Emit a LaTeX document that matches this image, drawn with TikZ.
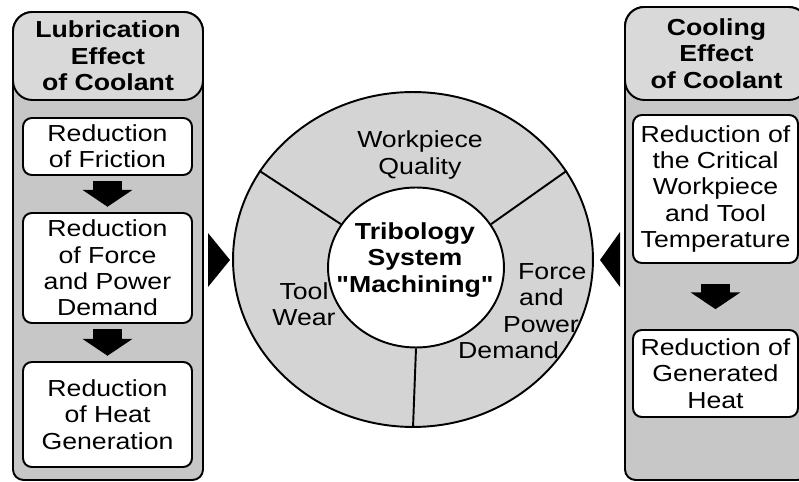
\documentclass[tikz,border=0pt]{standalone}
\usepackage{fontspec}
\setmainfont{Liberation Sans}[FakeStretch=1.15, Ligatures=TeXOff]
\usetikzlibrary{arrows.meta,shapes.geometric}

\newcommand\boxfont{\fontsize{13.2}{15}\selectfont}

\definecolor{panelgray}{gray}{0.78}
\definecolor{headgray}{gray}{0.85}
\definecolor{ringgray}{gray}{0.83}

\tikzset{
  panel/.style={draw, line width=1.1pt, fill=panelgray},
  head/.style={draw, line width=1.1pt, fill=headgray, rounded corners=11pt,
    align=center, font=\boxfont\bfseries, inner sep=0pt},
  effect/.style={draw, line width=1.1pt, fill=white, rounded corners=5pt,
    align=center, inner sep=1pt},
  flow/.style={line width=17pt, -{Triangle[length=9.6pt,width=28pt]},
    shorten <=3pt, shorten >=3pt},
  ring/.style={draw, ellipse, line width=1.1pt, inner sep=0pt},
}

\begin{document}
\begin{tikzpicture}[x=0.02cm, y=-0.02cm, every node/.style={font=\boxfont}]
  \useasboundingbox (0,0) rectangle (799,482);

  % Side panels
  \draw[panel] (13,250) [rounded corners=11pt] -- (13,12) -- (203,12) -- (203,250)
    [rounded corners=6pt] -- (203,480) -- (13,480) -- cycle;
  \draw[panel] (625,250) [rounded corners=11pt] -- (625,7) -- (808,7) -- (808,250)
    [rounded corners=6pt] -- (808,480) -- (625,480) -- cycle;

  % Lubrication chain
  \node[head, minimum width=3.8cm, minimum height=1.76cm] (lubhead) at (108,56)
    {Lubrication\\Effect\\of Coolant};
  \node[effect, minimum width=3.38cm, minimum height=1.14cm] (fric) at (107.5,146.5)
    {Reduction\\of Friction};
  \node[effect, minimum width=3.38cm, minimum height=2.2cm] (force) at (107.5,268)
    {Reduction\\of Force\\and Power\\Demand};
  \node[effect, minimum width=3.38cm, minimum height=2.1cm] (heat) at (107.5,414.5)
    {Reduction\\of Heat\\Generation};
  \draw[flow] (fric) -- (force);
  \draw[flow] (force) -- (heat);

  % Cooling chain
  \node[head, minimum width=3.66cm, minimum height=1.86cm] (coolhead) at (716.5,53.5)
    {Cooling\\Effect\\of Coolant};
  \node[effect, minimum width=3.3cm, minimum height=2.96cm] (crit) at (715.5,189)
    {Reduction of\\the Critical\\Workpiece\\and Tool\\Temperature};
  \node[effect, minimum width=3.3cm, minimum height=1.74cm] (gen) at (715.5,373.5)
    {Reduction of\\Generated\\Heat};
  \draw[flow, shorten <=11.3pt, shorten >=11.3pt] (crit) -- (gen);

  % Tribology system
  \node[ring, fill=ringgray, minimum width=7.2cm, minimum height=6.7cm] (outer) at (413,259.5) {};
  \node[ring, fill=white, minimum width=3.52cm, minimum height=3.2cm] (core) at (416,267.5) {};
  \draw[line width=1.1pt] (outer.150) -- (core.150);
  \draw[line width=1.1pt] (outer.30) -- (core.30);
  \draw[line width=1.1pt] (outer.270) -- (core.270);

  \node[align=center, font=\boxfont\bfseries] (sys) at (415,260) {Tribology\\System\\"Machining"};
  \node[align=center] (quality) at (420,155) {Workpiece\\Quality};
  \node[align=center] (wear) at (304,304) {Tool\\Wear};
  \node[align=left, anchor=west] (demand) at (452,311)
    {\hspace*{1.2cm}Force\\\hspace*{1.22cm}and\\\hspace*{0.9cm}Power\\Demand};

  % Inputs into the system
  \fill (208,233) -- (230,260) -- (208,287) -- cycle;
  \fill (620,232) -- (600,260) -- (620,287) -- cycle;
\end{tikzpicture}
\end{document}
